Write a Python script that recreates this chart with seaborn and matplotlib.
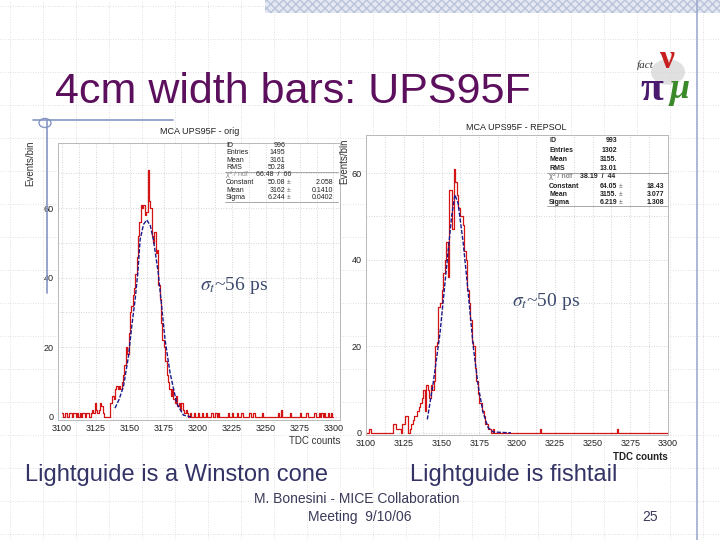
import numpy as np
import pandas as pd
import seaborn as sns
import matplotlib.pyplot as plt
from matplotlib.lines import Line2D
from matplotlib.patches import Rectangle, Circle

# histogram data (bin = 1 TDC count, only non-empty bins)
left_bins = [3100, 3102, 3103, 3105, 3106, 3108, 3109, 3111, 3113, 3115, 3116, 3118, 3119,
             3121, 3122, 3123, 3124, 3125, 3126, 3127, 3128, 3129, 3130, 3135, 3136, 3137,
             3138, 3139, 3140, 3141, 3142, 3143, 3144, 3145, 3146, 3147, 3148, 3149, 3150,
             3151, 3152, 3153, 3154, 3155, 3156, 3157, 3158, 3159, 3160, 3161, 3162, 3163,
             3164, 3165, 3166, 3167, 3168, 3169, 3170, 3171, 3172, 3173, 3174, 3175, 3176,
             3177, 3178, 3179, 3180, 3181, 3182, 3183, 3184, 3185, 3186, 3187, 3188, 3189,
             3190, 3191, 3192, 3194, 3197, 3200, 3203, 3206, 3210, 3213, 3215, 3222, 3225,
             3229, 3232, 3238, 3241, 3247, 3259, 3261, 3268, 3275, 3280, 3286, 3289, 3291,
             3293, 3296, 3298]
left_counts = [1, 1, 1, 1, 1, 1, 1, 1, 1, 1, 1, 1, 1,
               1, 2, 1, 4, 2, 1, 2, 4, 3, 1, 4, 4, 6,
               5, 8, 9, 8, 9, 8, 10, 12, 15, 20, 18, 24, 30,
               32, 35, 37, 41, 46, 52, 56, 61, 60, 61, 58, 59, 71,
               62, 60, 52, 50, 53, 47, 48, 38, 34, 27, 22, 20, 16,
               12, 10, 8, 6, 8, 5, 4, 6, 3, 4, 2, 4, 2,
               1, 2, 1, 1, 1, 1, 1, 1, 1, 1, 1, 1, 1,
               1, 1, 1, 1, 1, 1, 2, 1, 1, 1, 1, 1, 1,
               1, 1, 1]

right_bins = [3102, 3118, 3119, 3120, 3121, 3122, 3124, 3125, 3126, 3127, 3129, 3130, 3131,
              3132, 3133, 3134, 3135, 3136, 3137, 3138, 3139, 3140, 3141, 3142, 3143, 3144,
              3145, 3146, 3147, 3148, 3149, 3150, 3151, 3152, 3153, 3154, 3155, 3156, 3157,
              3158, 3159, 3160, 3161, 3162, 3163, 3164, 3165, 3166, 3167, 3168, 3169, 3170,
              3171, 3172, 3173, 3174, 3175, 3176, 3177, 3178, 3179, 3180, 3181, 3182, 3184,
              3215, 3266]
right_counts = [1, 2, 2, 1, 1, 1, 2, 2, 4, 4, 1, 2, 3,
                4, 4, 5, 6, 7, 8, 10, 5, 11, 10, 8, 11, 10,
                12, 20, 21, 29, 30, 33, 37, 40, 44, 36, 56, 56, 47,
                61, 58, 55, 52, 50, 50, 48, 42, 40, 33, 30, 26, 21,
                20, 15, 12, 9, 7, 7, 5, 4, 2, 2, 1, 1, 1,
                1, 1]

# gaussian fit curves
left_fit_x = [3139.0, 3142.0, 3145.2, 3148.9, 3151.3, 3153.8, 3155.8, 3157.5, 3160.0, 3162.4,
              3165.0, 3167.3, 3170.9, 3173.4, 3175.9, 3179.6, 3184.5, 3189.4, 3195.0]
left_fit_y = [2.5, 5.0, 8.7, 17.3, 25.9, 33.6, 41.3, 50.9, 55.3, 56.6,
              55.0, 50.9, 41.3, 31.7, 22.1, 12.6, 3.9, 0.5, 0.0]
right_fit_x = [3140.6, 3144.5, 3149.0, 3153.4, 3156.7, 3158.9, 3161.0, 3164.4, 3167.7, 3171.0,
               3174.3, 3177.6, 3180.9, 3184.2, 3196.0]
right_fit_y = [3.1, 11.5, 23.0, 38.5, 50.0, 55.0, 53.0, 43.8, 32.3, 20.0,
               10.8, 4.6, 1.2, 0.2, 0.0]

x_ticks = [3100, 3125, 3150, 3175, 3200, 3225, 3250, 3275, 3300]
y_ticks = [0, 20, 40, 60]

stats_labels = ['ID', 'Entries', 'Mean', 'RMS', 'χ² / ndf', 'Constant', 'Mean', 'Sigma']
left_stats = ['996', '1495', '3161', '50.28', '66.48  /  66', '50.08', '3162', '6.244']
left_errs = ['', '', '', '', '', '2.058', '0.1410', '0.0402']
right_stats = ['993', '1302', '3155.', '13.01', '38.19  /  44', '64.05', '3155.', '6.219']
right_errs = ['', '', '', '', '', '18.43', '3.077', '1.308']

sns.set_style('white')
plt.rcParams['font.family'] = ['Liberation Sans', 'DejaVu Sans']
plt.rcParams['mathtext.fontset'] = 'stix'

W, H = 720, 540
fig = plt.figure(figsize=(7.2, 5.4), dpi=100)


def fx(x):
    return x / W


def fy(y):
    return 1 - y / H


# slide background: dotted grid, hatched band, guide lines
for gx in range(10, W, 33):
    fig.add_artist(Line2D([fx(gx)] * 2, [0, 1], transform=fig.transFigure,
                          color='#d6d6d6', lw=0.6, ls=(0, (1, 2)), zorder=0))
for gy in range(6, H, 33):
    fig.add_artist(Line2D([0, 1], [fy(gy)] * 2, transform=fig.transFigure,
                          color='#d6d6d6', lw=0.6, ls=(0, (1, 2)), zorder=0))
fig.add_artist(Rectangle((fx(265), fy(13)), fx(720 - 265), 13 / H, transform=fig.transFigure,
                         facecolor='#e4e8f2', edgecolor='#b9c3da', hatch='xxxx', lw=0, zorder=1))
fig.add_artist(Line2D([fx(697)] * 2, [0, 1], transform=fig.transFigure, color='#9eaad0', lw=1.2))
fig.add_artist(Line2D([fx(33), fx(173)], [fy(120)] * 2, transform=fig.transFigure,
                      color='#8595c4', lw=1.2))
fig.add_artist(Line2D([fx(47)] * 2, [fy(120), fy(293)], transform=fig.transFigure,
                      color='#8595c4', lw=1.2))
fig.add_artist(Circle((fx(45), fy(123)), 6 / W, transform=fig.transFigure,
                      facecolor='none', edgecolor='#8595c4', lw=1))

# title and logo
fig.text(fx(55), fy(103), '4cm width bars: UPS95F', fontsize=31, color='#5c0f5c', va='baseline')
fig.add_artist(Circle((fx(668), fy(72)), 17 / W, transform=fig.transFigure,
                      facecolor='#d4d4d4', edgecolor='none', alpha=0.7))
fig.text(fx(637), fy(68), 'fact', fontsize=8, style='italic', family='Liberation Serif', color='#333')
fig.text(fx(640), fy(100), 'π', fontsize=30, family='Liberation Serif', weight='bold', color='#4a1a6e')
fig.text(fx(660), fy(68), 'ν', fontsize=24, family='Liberation Serif', weight='bold', color='#c82020')
fig.text(fx(670), fy(98), 'μ', fontsize=26, family='Liberation Serif', style='italic',
         weight='bold', color='#3a8a2a')


def draw_panel(rect, bins, counts, fit_x, fit_y, ylim, xlim):
    ax = fig.add_axes(rect)
    ax.set_facecolor('white')
    hist = pd.DataFrame({'tdc': bins, 'n': counts})
    sns.histplot(data=hist, x='tdc', weights='n', binwidth=1, binrange=(3100, 3300),
                 element='step', fill=False, color='#d41414', lw=0.9, ax=ax)
    fit = pd.DataFrame({'x': fit_x, 'y': fit_y})
    sns.lineplot(data=fit, x='x', y='y', color='#1a1a8c', lw=1.0, ax=ax,
                 linestyle=(0, (3, 1.2)))
    ax.set_xlim(*xlim)
    ax.set_ylim(*ylim)
    ax.set_xticks(x_ticks)
    ax.set_yticks(y_ticks)
    ax.set_xticks(np.arange(3100, 3301, 12.5), minor=True)
    ax.set_yticks(np.arange(0, ylim[1], 10), minor=True)
    ax.grid(True, which='both', color='#c8c8c8', ls=(0, (1, 2)), lw=0.6)
    ax.tick_params(labelsize=6.5, length=0, pad=3, colors='#222')
    ax.tick_params(which='minor', length=0)
    ax.set_xlabel('')
    ax.set_ylabel('')
    for s in ax.spines.values():
        s.set_color('#b8b8b8')
        s.set_linewidth(0.7)
    return ax


ax1 = draw_panel([fx(58), fy(420), fx(340 - 58), (420 - 143) / H],
                 left_bins, left_counts, left_fit_x, left_fit_y, (-0.9, 78.7), (3097, 3304.8))
ax2 = draw_panel([fx(366), fy(435), fx(668 - 366), (435 - 135) / H],
                 right_bins, right_counts, right_fit_x, right_fit_y, (-0.5, 68.8), (3100, 3300))

# panel titles and axis captions
fig.text(fx(200), fy(132), 'MCA UPS95F - orig', fontsize=6.5, ha='center', va='center', color='#222')
fig.text(fx(516), fy(127), 'MCA UPS95F - REPSOL', fontsize=6.5, ha='center', va='center', color='#222')
fig.text(fx(30), fy(140), 'Events/bin', fontsize=7, rotation=90, ha='center', va='top', color='#333')
fig.text(fx(344), fy(138), 'Events/bin', fontsize=7, rotation=90, ha='center', va='top', color='#333')
fig.text(fx(340), fy(441), 'TDC counts', fontsize=7, ha='right', va='center', color='#333')
fig.text(fx(668), fy(457), 'TDC counts', fontsize=7, ha='right', va='center', color='#222',
         weight='bold')


def stats_box(rows_y, x_lab, x_val, x_pm, x_err, x_chi, line_y, x0, x1, bold):
    w = 'bold' if bold else 'normal'
    vals = left_stats if not bold else right_stats
    errs = left_errs if not bold else right_errs
    for i, (lab, v, e) in enumerate(zip(stats_labels, vals, errs)):
        y = fy(rows_y[i])
        col = '#888' if i == 4 else '#222'
        fig.text(fx(x_lab), y, lab, fontsize=5, va='center', color=col, weight=w)
        if i == 4:
            fig.text(fx(x_chi), y, v, fontsize=5, va='center', color='#222', weight=w)
        else:
            fig.text(fx(x_val), y, v, fontsize=5, va='center', ha='right', color='#222', weight=w)
        if e:
            fig.text(fx(x_pm), y, '±', fontsize=5, va='center', color='#666')
            fig.text(fx(x_err), y, e, fontsize=5, va='center', ha='right', color='#222', weight=w)
    for ly in line_y:
        fig.add_artist(Line2D([fx(x0), fx(x1)], [fy(ly)] * 2, transform=fig.transFigure,
                              color='#999', lw=0.6))


stats_box([145.5, 152.7, 160, 167.3, 175, 182.7, 190, 197.5], 226, 285, 287, 333, 256,
          [171.5, 201.5], 225, 338, False)
stats_box([141, 150.5, 159.5, 168, 177, 186, 194.3, 202.5], 549, 617, 619, 664, 580,
          [172.7, 205.7], 547, 668, True)

# time resolution annotations
fig.text(fx(200), fy(285), r'$\sigma_t$~56 ps', fontsize=14, family='Liberation Serif',
         color='#3c4a6c', va='center')
fig.text(fx(512), fy(302), r'$\sigma_t$~50 ps', fontsize=14, family='Liberation Serif',
         color='#3c4a6c', va='center')

# slide footer
fig.text(fx(25), fy(475), 'Lightguide is a Winston cone', fontsize=17, color='#333366', va='center')
fig.text(fx(410), fy(475), 'Lightguide is fishtail', fontsize=17, color='#333366', va='center')
fig.text(fx(357), fy(499), 'M. Bonesini - MICE Collaboration', fontsize=10, color='#3a3a5a',
         ha='center', va='center')
fig.text(fx(360), fy(517), 'Meeting  9/10/06', fontsize=10, color='#3a3a5a', ha='center', va='center')
fig.text(fx(650), fy(517), '25', fontsize=10, color='#3a3a5a', ha='center', va='center')

fig.savefig('out.png', dpi=100)
